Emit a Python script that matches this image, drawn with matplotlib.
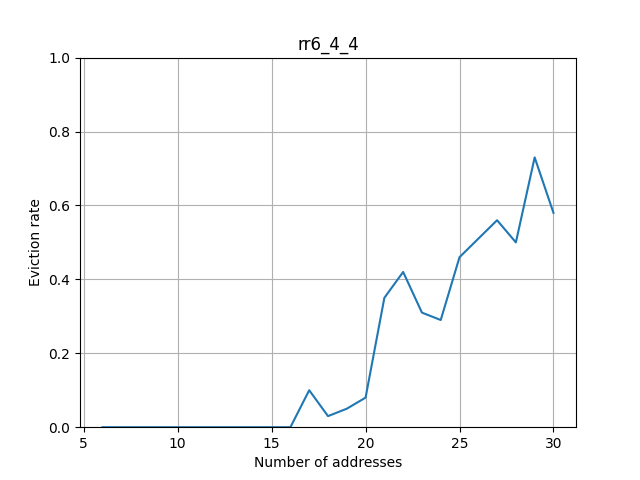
import matplotlib
matplotlib.use('Agg')
import matplotlib.pyplot as plt

n_addresses = list(range(6, 31))
eviction_rate = [0, 0, 0, 0, 0, 0, 0, 0, 0, 0, 0,
                 0.10, 0.03, 0.05, 0.08, 0.35, 0.42, 0.31, 0.29,
                 0.46, 0.51, 0.56, 0.50, 0.73, 0.58]

fig, ax = plt.subplots(figsize=(6.4, 4.8), dpi=100)
ax.plot(n_addresses, eviction_rate)
ax.set_ylim(0, 1)
ax.set_xlabel('Number of addresses')
ax.set_ylabel('Eviction rate')
ax.set_title('rr6_4_4')
ax.grid(True)
fig.savefig('out.png')
